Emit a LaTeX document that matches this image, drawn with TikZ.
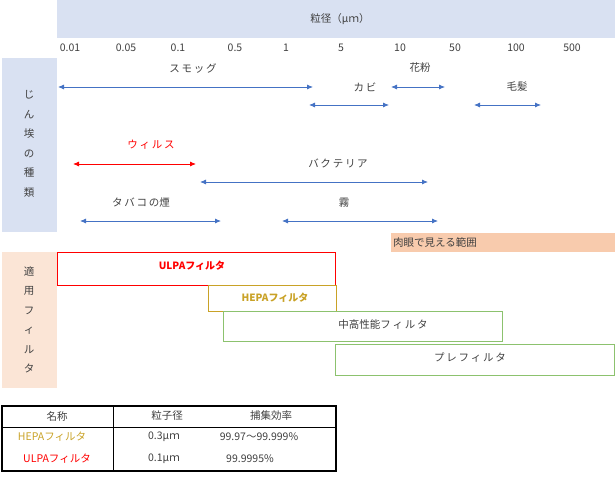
\documentclass[tikz,border=0pt]{standalone}
\usepackage{fontspec}
\setmainfont{Noto Sans CJK JP}
\usetikzlibrary{arrows.meta}
\definecolor{bandblue}{HTML}{D9E1F2}
\definecolor{peach}{HTML}{FBE5D6}
\definecolor{orng}{HTML}{F8CBAD}
\definecolor{arrblue}{HTML}{4472C4}
\definecolor{gold}{HTML}{C9A227}
\definecolor{grn}{HTML}{8CC26E}
\begin{document}
\begin{tikzpicture}[x=1pt,y=-1pt,font=\fontsize{10.5}{12}\selectfont,
  lbl/.style={inner sep=0pt,text=black!75},
  rng/.style={{Latex[length=6pt,width=5pt]}-{Latex[length=6pt,width=5pt]},arrblue,line width=0.8pt},
  fbox/.style={draw,line width=0.9pt,inner sep=0pt}]
\useasboundingbox (0,0) rectangle (615,476);
\fill[bandblue] (57,0) rectangle (615,38);
\node[lbl] (title) at (340,19) {粒径（μｍ）};
\foreach \v/\x [count=\i] in {0.01/70,0.05/126,0.1/178,0.5/235,1/286,5/341,10/400,50/455,100/516,500/572}
  \node[lbl] (t\i) at (\x,48) {\v};
\fill[bandblue] (2,58) rectangle (57,232);
\node[lbl,align=center,font=\fontsize{10.5}{19.5}\selectfont] (dust) at (29,144) {じ\\ん\\埃\\の\\種\\類};
\node[lbl] (smog) at (193,68) {ス\,モ\,ッ\,グ};
\coordinate (s1) at (58,87); \coordinate (s2) at (313,87);
\draw[rng] (s1) -- (s2);
\node[lbl] (pollen) at (420,68) {花粉};
\coordinate (p1) at (391,87); \coordinate (p2) at (445,87);
\draw[rng] (p1) -- (p2);
\node[lbl] (mold) at (365,87) {カ\,ビ};
\coordinate (m1) at (309,105); \coordinate (m2) at (389,105);
\draw[rng] (m1) -- (m2);
\node[lbl] (hair) at (517,87) {毛髪};
\coordinate (h1) at (474,105); \coordinate (h2) at (541,105);
\draw[rng] (h1) -- (h2);
\node[lbl,text=red] (virus) at (151,145) {ウ\,ィ\,ル\,ス};
\coordinate (v1) at (73,164); \coordinate (v2) at (196,164);
\draw[rng,red] (v1) -- (v2);
\node[lbl] (bact) at (338,163) {バ\,ク\,テ\,リ\,ア};
\coordinate (b1) at (200,182); \coordinate (b2) at (428,182);
\draw[rng] (b1) -- (b2);
\node[lbl] (tob) at (141,203) {タ\,バ\,コ\,の煙};
\coordinate (c1) at (80,221); \coordinate (c2) at (221,221);
\draw[rng] (c1) -- (c2);
\node[lbl] (fog) at (344,203) {霧};
\coordinate (f1) at (282,221); \coordinate (f2) at (438,221);
\draw[rng] (f1) -- (f2);
\fill[orng] (391,233) rectangle (615,252);
\node[lbl,anchor=west] (eye) at (393,242.5) {肉眼で見える範囲};
\fill[peach] (2,252) rectangle (57,388);
\node[lbl,align=center,font=\fontsize{10.5}{19.5}\selectfont] (filt) at (29,320) {適\\用\\フ\\ィ\\ル\\タ};
\draw[fbox,red] (57,252) rectangle (335,285);
\node[lbl,text=red,font=\fontsize{10}{12}\bfseries] (ulpa) at (192,266) {ULPAフィルタ};
\draw[fbox,gold] (208,285) rectangle (336,311);
\node[lbl,text=gold,font=\fontsize{10}{12}\bfseries] (hepa) at (275,298) {HEPAフィルタ};
\draw[fbox,grn] (223,311) rectangle (502,341);
\node[lbl] (mid) at (383,325) {中高性能フ\,ィ\,ル\,タ};
\draw[fbox,grn] (335,344) rectangle (614,375);
\node[lbl] (pre) at (470,358) {プ\,レ\,フ\,ィ\,ル\,タ};
\draw[line width=1.2pt] (2,406) rectangle (336,471);
\draw[line width=0.7pt] (2,427) -- (336,427);
\draw[line width=0.9pt] (113,406) -- (113,471);
\node[lbl] (h1n) at (57,416) {名称};
\node[lbl] (h2n) at (167,416) {粒子径};
\node[lbl] (h3n) at (271,416) {捕集効率};
\node[lbl,text=gold] (r1a) at (52,437) {HEPAフィルタ};
\node[lbl] (r1b) at (164,437) {0.3μｍ};
\node[lbl] (r1c) at (259,437) {99.97～99.999\%};
\node[lbl,text=red] (r2a) at (57,459) {ULPAフィルタ};
\node[lbl] (r2b) at (164,459) {0.1μｍ};
\node[lbl,anchor=west] (r2c) at (226,459) {99.9995\%};
\end{tikzpicture}
\end{document}
